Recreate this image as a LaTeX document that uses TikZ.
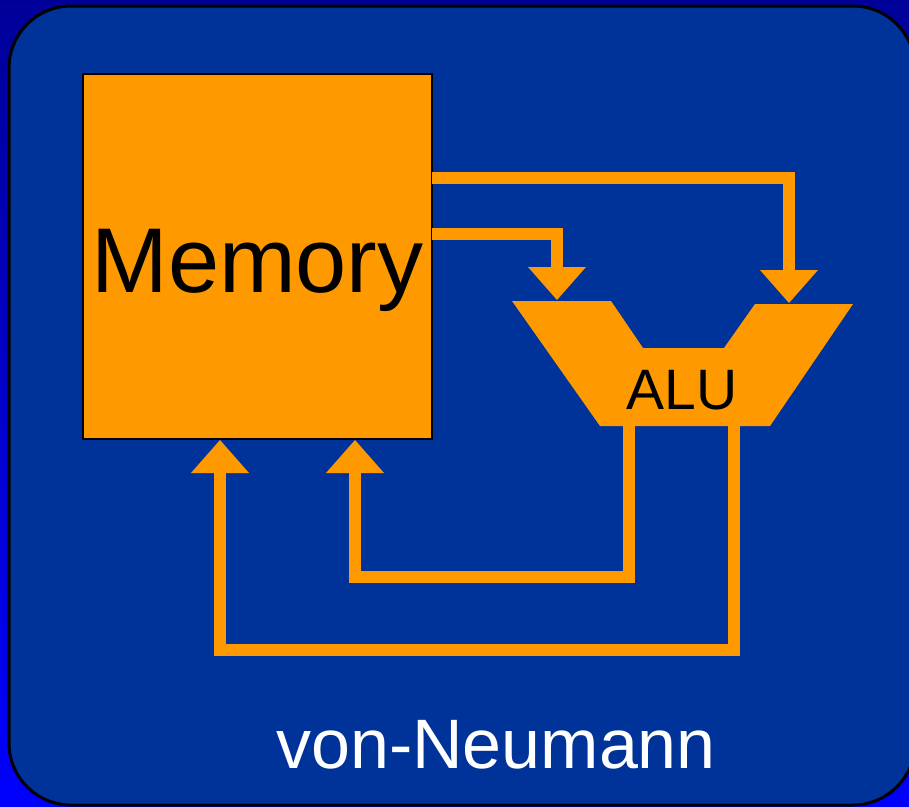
\documentclass[tikz,border=0pt]{standalone}
\usepackage{fontspec}
\setmainfont{Liberation Sans}
\usetikzlibrary{arrows.meta}
\definecolor{slideblue}{HTML}{003399}
\definecolor{busorange}{HTML}{FF9900}
\definecolor{bgtop}{HTML}{000099}
\definecolor{bgbottom}{HTML}{0000FF}
\begin{document}
\begin{tikzpicture}[x=1pt,y=-1pt,
  bus/.style={draw=busorange, line width=12pt, line join=miter,
    -{Triangle[length=33pt,width=58pt,line width=0pt]}},
  membox/.style={draw=black, line width=2pt, fill=busorange, inner sep=0pt,
    outer sep=0pt, minimum width=349pt, minimum height=365pt}]
\useasboundingbox (0,0) rectangle (909,806);
\clip (0,0) rectangle (909,806);
% slide background and panel
\shade[top color=bgtop, bottom color=bgbottom] (0,0) rectangle (909,806);
\draw[fill=slideblue, line width=3pt, rounded corners=62pt] (9,6) rectangle (915,805);
% memory block
\node[membox, anchor=north west] (mem) at (83,74) {};
\node[anchor=base, font=\fontsize{92}{100}\selectfont] (memlabel) at (257.5,292) {Memory};
% ALU outline
\fill[busorange] (512,301) -- (611,301) -- (643,348) -- (724,348) -- (755,304)
  -- (853,304) -- (770,426) -- (600,426) -- cycle;
\node[anchor=base, font=\fontsize{57}{60}\selectfont] (alu) at (682,409) {ALU};
% connection points
\coordinate (tapB) at (0,178);
\coordinate (tapA) at (0,234);
\coordinate (aluA) at (557,300);
\coordinate (aluB) at (789,303);
\coordinate (aluOutA) at (629,420);
\coordinate (aluOutB) at (734,420);
\coordinate (memInA) at (355,440);
\coordinate (memInB) at (220,440);
% data paths
\draw[bus] (mem.east |- tapB) -| (aluB);
\draw[bus] (mem.east |- tapA) -| (aluA);
\draw[bus] (aluOutA) -- ++(0,157) -| (memInA);
\draw[bus] (aluOutB) -- ++(0,230) -| (memInB);
% caption
\node[anchor=base, text=white, font=\fontsize{70}{80}\selectfont] (caption) at (496,768) {von-Neumann};
\end{tikzpicture}
\end{document}
